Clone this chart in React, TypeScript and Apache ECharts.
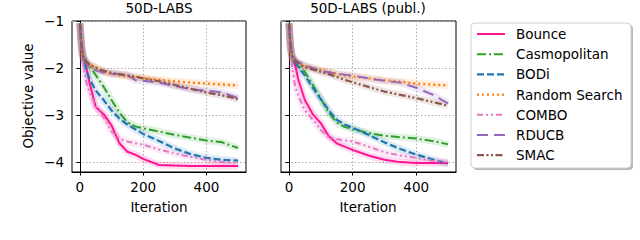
import React, { useEffect, useRef } from "react";
import * as echarts from "echarts";

const iterations = [0, 5, 10, 20, 30, 50, 75, 100, 125, 150, 175, 200, 250, 300, 350, 400, 450, 500];
const methods = ["Bounce", "Casmopolitan", "BODi", "Random Search", "COMBO", "RDUCB", "SMAC"];
const panelTitles = ["50D-LABS", "50D-LABS (publ.)"];
const xTicks = [0, 200, 400];
const yTicks = [-4, -3, -2, -1];

// Panel 1: 50D-LABS
const labsBounce = [-1.05, -1.55, -1.75, -1.98, -2.3, -2.83, -2.98, -3.22, -3.6, -3.78, -3.84, -3.93, -4.06, -4.07, -4.08, -4.08, -4.08, -4.08];
const labsCasmo = [-1.05, -1.6, -1.78, -1.9, -1.95, -2.15, -2.4, -2.68, -2.95, -3.15, -3.24, -3.28, -3.35, -3.42, -3.48, -3.54, -3.58, -3.7];
const labsBodi = [-1.05, -1.55, -1.78, -2.05, -2.22, -2.48, -2.68, -2.9, -3.08, -3.2, -3.3, -3.4, -3.55, -3.71, -3.83, -3.91, -3.95, -3.97];
const labsRandom = [-1.05, -1.6, -1.78, -1.86, -1.92, -1.98, -2.08, -2.13, -2.15, -2.18, -2.2, -2.21, -2.25, -2.28, -2.31, -2.33, -2.35, -2.37];
const labsCombo = [-1.05, -1.6, -1.9, -2.3, -2.5, -2.82, -3.05, -3.35, -3.5, -3.56, -3.6, -3.63, -3.73, -3.82, -3.89, -3.95, -4.0, -4.01];
const labsRducb = [-1.05, -1.45, -1.7, -1.9, -1.98, -2.05, -2.1, -2.12, -2.13, -2.14, -2.26, -2.27, -2.31, -2.38, -2.45, -2.48, -2.52, -2.64];
const labsSmac = [-1.05, -1.55, -1.75, -1.86, -1.92, -2.0, -2.06, -2.1, -2.13, -2.16, -2.18, -2.22, -2.28, -2.36, -2.44, -2.52, -2.58, -2.66];

// Panel 2: 50D-LABS (publ.)
const publBounce = [-1.05, -1.55, -1.75, -1.95, -2.26, -2.68, -2.98, -3.17, -3.45, -3.6, -3.67, -3.74, -3.86, -3.95, -4.0, -4.02, -4.02, -4.02];
const publCasmo = [-1.05, -1.6, -1.78, -1.88, -1.93, -2.08, -2.36, -2.65, -2.95, -3.16, -3.25, -3.3, -3.38, -3.44, -3.47, -3.5, -3.55, -3.62];
const publBodi = [-1.05, -1.55, -1.78, -1.9, -1.98, -2.16, -2.42, -2.66, -2.9, -3.1, -3.2, -3.27, -3.42, -3.58, -3.72, -3.84, -3.94, -4.03];
const publRandom = [-1.05, -1.6, -1.78, -1.85, -1.9, -1.96, -2.0, -2.04, -2.08, -2.12, -2.16, -2.18, -2.22, -2.26, -2.29, -2.33, -2.35, -2.37];
const publCombo = [-1.05, -1.7, -2.0, -2.4, -2.6, -2.9, -3.1, -3.32, -3.47, -3.51, -3.54, -3.56, -3.67, -3.79, -3.86, -3.91, -3.97, -4.0];
const publRducb = [-1.05, -1.45, -1.7, -1.82, -1.87, -1.94, -2.0, -2.06, -2.09, -2.12, -2.14, -2.16, -2.22, -2.27, -2.31, -2.42, -2.56, -2.75];
const publSmac = [-1.05, -1.55, -1.75, -1.85, -1.9, -1.98, -2.03, -2.08, -2.13, -2.19, -2.25, -2.3, -2.4, -2.5, -2.57, -2.64, -2.72, -2.8];

const panelData = [
  [labsBounce, labsCasmo, labsBodi, labsRandom, labsCombo, labsRducb, labsSmac],
  [publBounce, publCasmo, publBodi, publRandom, publCombo, publRducb, publSmac],
];

const colors = ["#ff1493", "#2ca02c", "#1f77b4", "#ff7f0e", "#e377c2", "#9467bd", "#8c564b"];
const dashes: any[] = [
  null,
  [9, 3, 2, 3],
  [7, 3],
  [2, 3],
  [6, 3, 2, 3, 2, 3],
  [11, 6],
  [7, 2.5, 2, 2.5, 2, 2.5],
];
const widths = [2, 2, 2.2, 2.4, 2, 2, 2.2];

const FONT = "DejaVu Sans";
const fmtMinus = (v: number) => String(v).replace("-", "\u2212");

export default function App() {
  const ref = useRef<HTMLDivElement>(null);
  useEffect(() => {
    if (!ref.current) return;
    const chart = echarts.init(ref.current, null, { renderer: "svg" });

    const grids = [
      { left: 72, top: 21, width: 174, height: 151 },
      { left: 281, top: 21, width: 175, height: 151 },
    ];

    const xAxes = grids.map((_, i) => ({
      type: "value",
      gridIndex: i,
      min: -25,
      max: 525,
      axisLine: { show: true, lineStyle: { color: "#000", width: 1 } },
      axisTick: { show: true, inside: false, length: 3.5, lineStyle: { color: "#000" }, customValues: xTicks },
      axisLabel: { show: true, customValues: xTicks, color: "#000", fontFamily: FONT, fontSize: 13.5, margin: 8 },
      splitLine: { show: true, lineStyle: { type: [1.5, 2], color: "#b0b0b0", width: 1 } },
    }));

    const yAxes = grids.map((_, i) => ({
      type: "value",
      gridIndex: i,
      min: -4.21,
      max: -1,
      axisLine: { show: true, lineStyle: { color: "#000", width: 1 } },
      axisTick: { show: true, inside: false, length: 3.5, lineStyle: { color: "#000" }, customValues: yTicks },
      axisLabel: {
        show: i === 0,
        customValues: yTicks,
        color: "#000",
        fontFamily: FONT,
        fontSize: 13.5,
        margin: 8,
        formatter: (v: number) => fmtMinus(v),
      },
      splitLine: { show: true, lineStyle: { type: [1.5, 2], color: "#b0b0b0", width: 1 } },
    }));

    const series: any[] = [];
    panelData.forEach((panel, p) => {
      panel.forEach((vals, m) => {
        const pts = iterations.map((it, k) => [it, vals[k]]);
        series.push({
          type: "line",
          xAxisIndex: p,
          yAxisIndex: p,
          data: pts,
          symbol: "none",
          silent: true,
          z: 1,
          lineStyle: { color: colors[m], width: 7, opacity: 0.15 },
        });
      });
    });
    panelData.forEach((panel, p) => {
      panel.forEach((vals, m) => {
        const pts = iterations.map((it, k) => [it, vals[k]]);
        series.push({
          type: "line",
          name: methods[m],
          xAxisIndex: p,
          yAxisIndex: p,
          data: pts,
          symbol: "none",
          z: 3,
          itemStyle: { color: colors[m] },
          lineStyle: { color: colors[m], width: widths[m], type: dashes[m] || "solid" },
        });
      });
    });

    // legend drawn by hand so the line styles match exactly
    const legendLeft = 471;
    const legendTop = 23;
    const legendW = 160;
    const legendH = 145;
    const legendItems: any[] = [];
    methods.forEach((name, i) => {
      const cy = 34 + i * 20.2;
      legendItems.push({
        type: "line",
        shape: { x1: 477, y1: cy, x2: 505, y2: cy },
        style: { stroke: colors[i], lineWidth: widths[i], lineDash: dashes[i] || null },
        z: 12,
      });
      legendItems.push({
        type: "text",
        x: 516,
        y: cy,
        style: { text: name, font: `13.5px "${FONT}"`, fill: "#000", textAlign: "left", textVerticalAlign: "middle" },
        z: 12,
      });
    });

    const text = (x: number, y: number, s: string, rot = 0) => ({
      type: "text",
      x,
      y,
      rotation: rot,
      style: { text: s, font: `13.5px "${FONT}"`, fill: "#000", textAlign: "center", textVerticalAlign: "middle" },
    });

    const option: any = {
      animation: false,
      backgroundColor: "#fff",
      grid: grids.map((g) => ({ ...g, show: true, borderColor: "#000", borderWidth: 1, backgroundColor: "transparent" })),
      xAxis: xAxes,
      yAxis: yAxes,
      graphic: [
        text(159, 8, panelTitles[0]),
        text(368, 8, panelTitles[1]),
        text(159, 207, "Iteration"),
        text(368, 207, "Iteration"),
        text(28, 96, "Objective value", Math.PI / 2),
        {
          type: "rect",
          shape: { x: legendLeft + 2, y: legendTop + 2, width: legendW, height: legendH, r: 4 },
          style: { fill: "#b8b8b8" },
          z: 10,
        },
        {
          type: "rect",
          shape: { x: legendLeft, y: legendTop, width: legendW, height: legendH, r: 4 },
          style: { fill: "#fff", stroke: "#d0d0d0", lineWidth: 1 },
          z: 11,
        },
        ...legendItems,
      ],
      series,
    };
    chart.setOption(option);
    return () => chart.dispose();
  }, []);
  return <div ref={ref} style={{ position: "fixed", left: 0, top: 0, width: 640, height: 240 }} />;
}
